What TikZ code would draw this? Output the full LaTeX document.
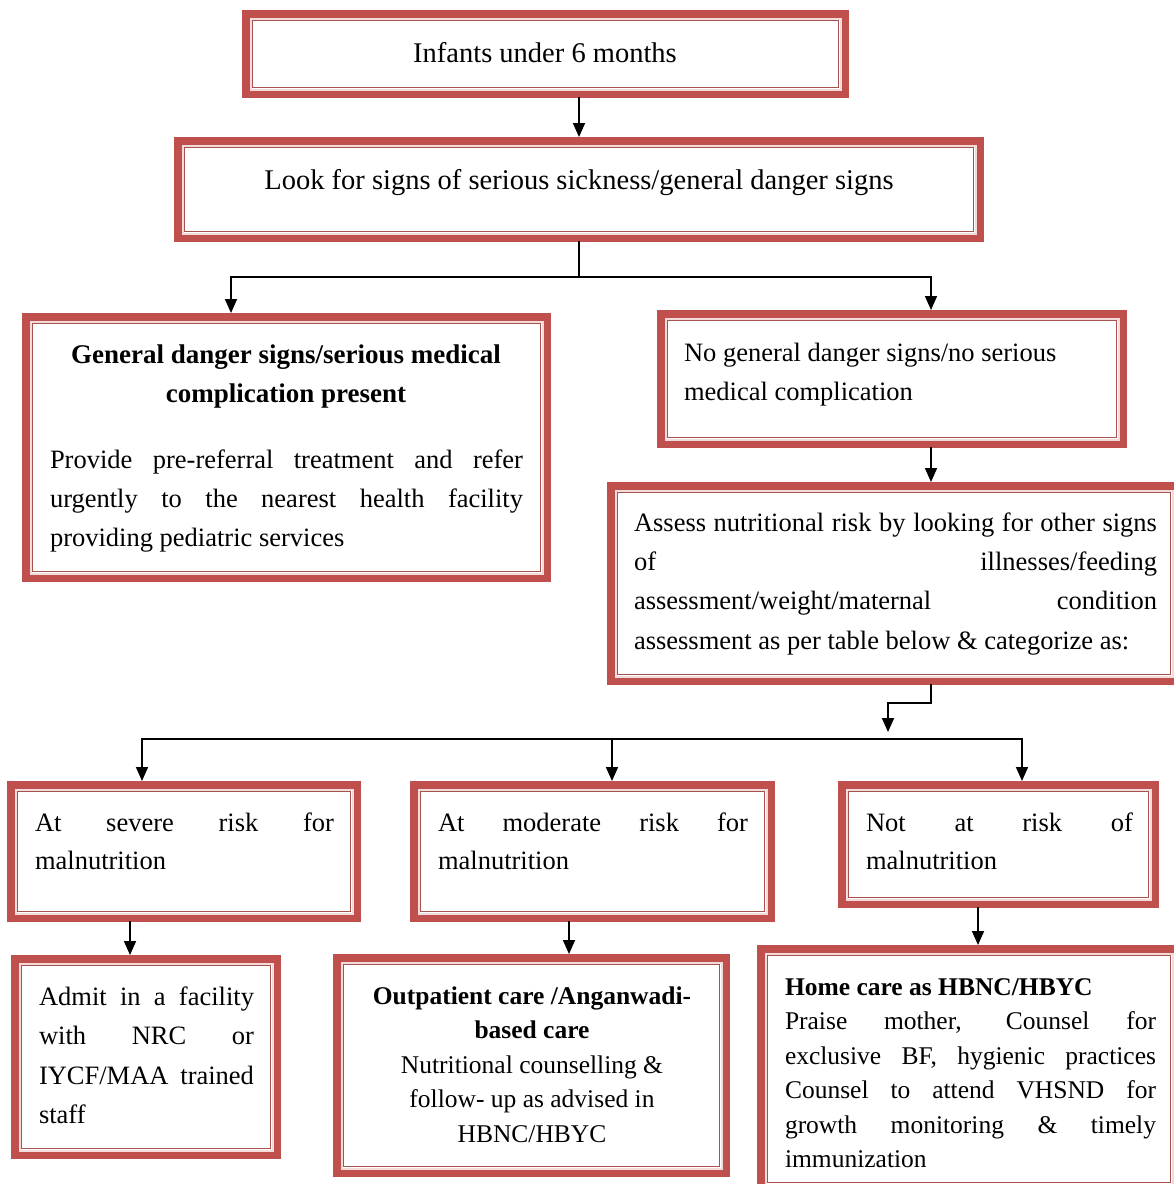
\documentclass[tikz,border=0pt]{standalone}
\usepackage{fontspec}
\setmainfont{Liberation Serif}
\usetikzlibrary{arrows.meta,calc}
\definecolor{brick}{HTML}{C0504D}
\definecolor{blush}{HTML}{F2DCDB}
\definecolor{rimline}{HTML}{A8524F}

% framed panel: name, left, top, right, bottom (outer edges)
\newcommand{\panel}[5]{%
  \node[frame, minimum width={(#4-#2-7.5)*1pt}, minimum height={(#5-#3-7.5)*1pt}]
    (#1) at ({(#2+#4)/2},{(#3+#5)/2}) {};
  \draw[blush, line width=2pt] ({#2+8.5},{#3+8.5}) rectangle ({#4-8.5},{#5-8.5});
  \draw[rimline, line width=1.4pt] ({#2+10.5},{#3+10.5}) rectangle ({#4-10.5},{#5-10.5});
}
% justified line: name, left, right, baseline, text
\newcommand{\jline}[5]{%
  \node[txt, anchor=base west] (#1) at (#2,#4) {\makebox[\dimexpr#3pt-#2pt\relax][s]{#5}};}
% left-aligned line: name, left, baseline, text
\newcommand{\lline}[4]{\node[txt, anchor=base west] (#1) at (#2,#3) {#4};}
% centred line: name, centre, baseline, text
\newcommand{\centreline}[4]{\node[txt, anchor=base] (#1) at (#2,#3) {#4};}

\begin{document}
\begin{tikzpicture}[x=1pt,y=-1pt,
  frame/.style={draw=brick, line width=7.5pt, fill=white, rectangle,
    inner sep=0pt, outer sep=3.75pt},
  txt/.style={inner sep=0pt, outer sep=0pt, font=\fontsize{26.5pt}{32pt}\selectfont},
  big/.style={font=\fontsize{28.5pt}{34pt}\selectfont},
  heading/.style={font=\fontsize{27pt}{32pt}\selectfont\bfseries},
  small/.style={font=\fontsize{25.5pt}{30pt}\selectfont},
  ln/.style={line width=1.7pt, line cap=rect},
  arr/.style={ln, -{Triangle[length=14pt,width=12pt]}}]

\useasboundingbox (0,0) rectangle (1174,1184);
\clip (0,0) rectangle (1174,1184);
\fill[white] (0,0) rectangle (1174,1184);

% panels
\panel{b1}{242}{10}{849}{98}
\panel{b2}{174}{137}{984}{242}
\panel{b3}{22}{313}{551}{582}
\panel{b4}{657}{310}{1127}{448}
\panel{b5}{607}{482}{1181}{685}
\panel{b6}{7}{781}{361}{922}
\panel{b7}{410}{781}{775}{922}
\panel{b8}{838}{781}{1159}{908}
\panel{b9}{11}{955}{281}{1159}
\panel{b10}{333}{954}{730}{1177}
\panel{b11}{757}{945}{1181}{1193}

% texts
\node[txt, big, anchor=base] (t1) at (545,62) {Infants under 6 months};
\node[txt, big, anchor=base] (t2) at (579,189) {Look for signs of serious sickness/general danger signs};

\node[txt, heading, anchor=base] (t3a) at (286,363) {General danger signs/serious medical};
\node[txt, heading, anchor=base] (t3b) at (286,402) {complication present};
\jline{t3c}{50}{523}{468}{Provide pre-referral treatment and refer}
\jline{t3d}{50}{523}{507}{urgently to the nearest health facility}
\lline{t3e}{50}{546}{providing pediatric services}

\lline{t4a}{684}{361}{No general danger signs/no serious}
\lline{t4b}{684}{400}{medical complication}

\jline{t5a}{634}{1157}{531}{Assess nutritional risk by looking for other signs}
\jline{t5b}{634}{1157}{570}{of illnesses/feeding}
\jline{t5c}{634}{1157}{609}{assessment/weight/maternal condition}
\lline{t5d}{634}{649}{assessment as per table below \& categorize as:}

\jline{t6a}{35}{334}{831}{At severe risk for}
\lline{t6b}{35}{869}{malnutrition}
\jline{t7a}{438}{748}{831}{At moderate risk for}
\lline{t7b}{438}{869}{malnutrition}
\jline{t8a}{866}{1133}{831}{Not at risk of}
\lline{t8b}{866}{869}{malnutrition}

\jline{t9a}{39}{254}{1005}{Admit in a facility}
\jline{t9b}{39}{254}{1044}{with NRC or}
\jline{t9c}{39}{254}{1084}{IYCF/MAA trained}
\lline{t9d}{39}{1123}{staff}

\node[txt, small, anchor=base] (t10a) at (532,1004) {\bfseries Outpatient care /Anganwadi-};
\node[txt, small, anchor=base] (t10b) at (532,1038) {\bfseries based care};
\node[txt, small, anchor=base] (t10c) at (532,1073) {Nutritional counselling \&};
\node[txt, small, anchor=base] (t10d) at (532,1107) {follow- up as advised in};
\node[txt, small, anchor=base] (t10e) at (532,1142) {HBNC/HBYC};

\node[txt, small, anchor=base west] (t11a) at (785,995) {\bfseries Home care as HBNC/HBYC};
\node[txt, small, anchor=base west] (t11b) at (785,1029) {\makebox[371pt][s]{Praise mother, Counsel for}};
\node[txt, small, anchor=base west] (t11c) at (785,1064) {\makebox[371pt][s]{exclusive BF, hygienic practices}};
\node[txt, small, anchor=base west] (t11d) at (785,1098) {\makebox[371pt][s]{Counsel to attend VHSND for}};
\node[txt, small, anchor=base west] (t11e) at (785,1133) {\makebox[371pt][s]{growth monitoring \& timely}};
\node[txt, small, anchor=base west] (t11f) at (785,1167) {immunization};

% junction points of the connectors
\coordinate (s1) at (579,277);
\coordinate (k3) at (231,277);
\coordinate (k4) at (931,277);
\coordinate (m1) at (931,703);
\coordinate (m2) at (888,703);
\coordinate (m3) at (888,732);
\coordinate (r6) at (142,739);
\coordinate (r7) at (612,739);
\coordinate (r8) at (1022,739);
\coordinate (q9) at (130,0);
\coordinate (q10) at (569,0);
\coordinate (q11) at (978,0);

% connectors
\draw[arr] (b1.south -| b2.north) -- (b2.north);
\draw[ln] (b2.south) -- (s1);
\draw[ln] (k3) -- (k4);
\draw[arr] (k3) -- (b3.north -| k3);
\draw[arr] (k4) -- (b4.north -| k4);
\draw[arr] (b4.south -| k4) -- (b5.north -| k4);
\draw[arr] (b5.south -| m1) -- (m1) -- (m2) -- (m3);
\draw[ln] (r6) -- (r8);
\draw[arr] (r6) -- (b6.north -| r6);
\draw[arr] (r7) -- (b7.north -| r7);
\draw[arr] (r8) -- (b8.north -| r8);
\draw[arr] (b6.south -| q9) -- (b9.north -| q9);
\draw[arr] (b7.south -| q10) -- (b10.north -| q10);
\draw[arr] (b8.south -| q11) -- (b11.north -| q11);
\end{tikzpicture}
\end{document}
